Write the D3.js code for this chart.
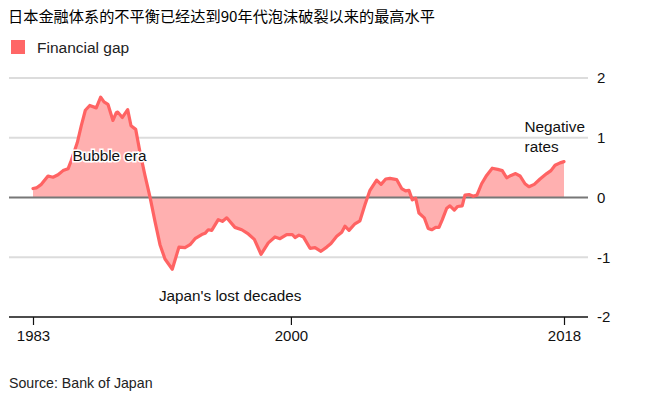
<!DOCTYPE html>
<html><head><meta charset="utf-8">
<script src="https://cdn.jsdelivr.net/npm/d3@7"></script>
<style>
body{margin:0;background:#fff;}
svg{font-family:"Liberation Sans",Arial,Helvetica,sans-serif;}
</style></head>
<body><svg id="c" width="655" height="393"></svg>
<script>
const title = "日本金融体系的不平衡已经达到90年代泡沫破裂以来的最高水平";
const seriesName = "Financial gap";
const source = "Source: Bank of Japan";
const years = [1983.0,1983.22,1983.55,1983.99,1984.32,1984.65,1984.98,1985.31,1985.52,1985.92,1986.18,1986.45,1986.74,1987.17,1987.46,1987.68,1987.94,1988.27,1988.49,1988.58,1988.89,1989.24,1989.46,1989.77,1990.05,1990.38,1990.71,1991.04,1991.37,1991.70,1992.18,1992.62,1993.02,1993.35,1993.68,1994.12,1994.34,1994.55,1994.78,1995.21,1995.48,1995.77,1996.31,1996.76,1997.19,1997.59,1998.03,1998.51,1998.95,1999.28,1999.72,2000.09,2000.27,2000.53,2000.82,2001.26,2001.59,2001.98,2002.36,2002.64,2003.02,2003.35,2003.56,2003.83,2004.22,2004.55,2004.88,2005.21,2005.65,2005.94,2006.25,2006.53,2006.97,2007.30,2007.56,2007.78,2008.00,2008.22,2008.44,2008.79,2009.05,2009.28,2009.54,2009.76,2009.98,2010.27,2010.48,2010.77,2010.99,2011.29,2011.47,2011.74,2012.02,2012.26,2012.57,2012.90,2013.27,2013.63,2013.93,2014.22,2014.51,2014.81,2015.10,2015.43,2015.69,2016.04,2016.42,2016.86,2017.14,2017.41,2017.74,2018.0];
const gap = [0.15,0.16,0.22,0.36,0.34,0.38,0.45,0.48,0.62,0.92,1.2,1.46,1.54,1.5,1.68,1.6,1.56,1.29,1.42,1.43,1.34,1.47,1.2,1.14,0.76,0.37,0.01,-0.4,-0.79,-1.03,-1.2,-0.83,-0.84,-0.79,-0.69,-0.62,-0.60,-0.54,-0.55,-0.37,-0.40,-0.34,-0.50,-0.54,-0.61,-0.70,-0.95,-0.76,-0.66,-0.69,-0.62,-0.62,-0.67,-0.63,-0.66,-0.85,-0.84,-0.90,-0.83,-0.77,-0.65,-0.58,-0.48,-0.55,-0.44,-0.39,-0.12,0.12,0.29,0.22,0.31,0.32,0.30,0.15,0.11,0.12,-0.04,-0.01,-0.26,-0.34,-0.52,-0.54,-0.50,-0.50,-0.37,-0.18,-0.14,-0.21,-0.15,-0.14,0.04,0.05,0.02,0.04,0.23,0.37,0.49,0.47,0.45,0.33,0.37,0.40,0.36,0.23,0.18,0.22,0.31,0.40,0.45,0.54,0.58,0.60];
const xTicks = [1983, 2000, 2018];
const yTicks = [2, 1, 0, -1, -2];
const annotations = [
  {text:["Bubble era"], year:1985.6, value:0.61, anchor:"start"},
  {text:["Japan's lost decades"], year:1991.3, value:-1.73, anchor:"start"},
  {text:["Negative","rates"], year:2015.4, value:1.1, anchor:"start"}
];

const data = years.map((y,i)=>({x:y, v:gap[i]}));
const svg = d3.select("#c");
const x = d3.scaleLinear().domain([1983, 2018]).range([33, 564]);
const y = d3.scaleLinear().domain([-2, 2]).range([317, 78]);
const left = 9, right = 588;

svg.append("text").attr("x", 8).attr("y", 22)
  .attr("font-family", "'Noto Sans CJK SC', sans-serif").attr("font-size", 15.2)
  .attr("fill", "#000").text(title);

svg.append("rect").attr("x", 11).attr("y", 40).attr("width", 14).attr("height", 14).attr("fill", "#ff6666");
svg.append("text").attr("x", 37).attr("y", 53).attr("font-size", 15.5).attr("fill", "#222").text(seriesName);

// grid
svg.append("g").selectAll("line").data(yTicks.filter(d=>d!==0 && d!==-2)).join("line")
  .attr("x1", left).attr("x2", right).attr("y1", d=>y(d)).attr("y2", d=>y(d))
  .attr("stroke", "#dcdcdc").attr("stroke-width", 2);

// area
svg.append("path").datum(data)
  .attr("d", d3.area().x(d=>x(d.x)).y0(y(0)).y1(d=>y(d.v)))
  .attr("fill", "#ffb0b0");

// zero line
svg.append("line").attr("x1", left).attr("x2", right).attr("y1", y(0)).attr("y2", y(0))
  .attr("stroke", "#777").attr("stroke-width", 2);

// line
svg.append("path").datum(data)
  .attr("d", d3.line().x(d=>x(d.x)).y(d=>y(d.v)))
  .attr("fill", "none").attr("stroke", "#ff6363").attr("stroke-width", 3.2)
  .attr("stroke-linejoin", "round").attr("stroke-linecap", "round");

// y labels
const yAxis = svg.append("g").attr("transform", `translate(${right},0)`)
  .call(d3.axisRight(y).tickValues(yTicks).tickSize(0).tickPadding(9).tickFormat(d=>String(d)));
yAxis.select(".domain").remove();
yAxis.selectAll("text").attr("font-size", 15).attr("fill", "#111").attr("font-family", "'Liberation Sans',Arial,sans-serif");

// x axis
svg.append("line").attr("x1", left).attr("x2", right).attr("y1", y(-2)).attr("y2", y(-2))
  .attr("stroke", "#111").attr("stroke-width", 1.5);
const xAxis = svg.append("g").attr("transform", `translate(0,${y(-2)})`)
  .call(d3.axisBottom(x).tickValues(xTicks).tickSize(8).tickPadding(5).tickFormat(d=>String(d)));
xAxis.select(".domain").remove();
xAxis.selectAll("line").attr("stroke", "#111").attr("stroke-width", 1.2);
xAxis.selectAll("text").attr("font-size", 15).attr("fill", "#111").attr("font-family", "'Liberation Sans',Arial,sans-serif");

// annotations
annotations.forEach(a=>{
  const t = svg.append("text").attr("x", x(a.year)).attr("y", y(a.value))
    .attr("font-size", 15.3).attr("fill", "#111").attr("text-anchor", a.anchor)
    .attr("stroke", "#fff").attr("stroke-width", 3).attr("paint-order", "stroke");
  a.text.forEach((line,i)=> t.append("tspan").attr("x", x(a.year)).attr("dy", i===0?0:20).text(line));
});

svg.append("text").attr("x", 9).attr("y", 388).attr("font-size", 14.2).attr("fill", "#222").text(source);
</script></body></html>
